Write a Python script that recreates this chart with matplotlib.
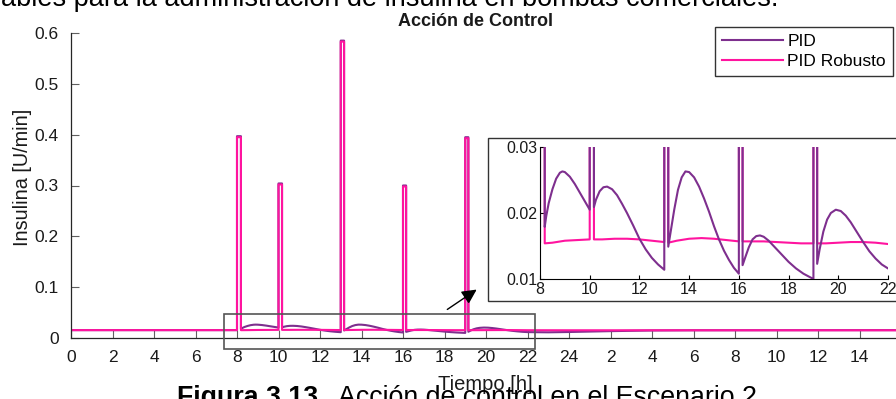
import matplotlib
matplotlib.use("Agg")
import matplotlib.pyplot as plt
from matplotlib.patches import Rectangle, FancyArrowPatch
from matplotlib.ticker import FormatStrFormatter

plt.rcParams['font.family'] = ['Liberation Sans', 'DejaVu Sans']

# Control action, PID controller (time in hours, insulin in U/min)
t_pid = [0.0, 8.0, 8.0, 8.19, 8.19, 8.25, 8.35, 8.5, 8.65, 8.8, 8.9, 9.0, 9.2, 9.4, 9.6, 9.8, 10.0,
         10.0, 10.17, 10.17, 10.25, 10.4, 10.55, 10.7, 10.9, 11.1, 11.3, 11.5, 11.75, 12.0,
         12.25, 12.5, 12.75, 13.0,
         13.0, 13.16, 13.16, 13.25, 13.4, 13.55, 13.7, 13.85, 14.0, 14.2, 14.4, 14.6, 14.8,
         15.0, 15.2, 15.4, 15.6, 15.8, 16.0,
         16.0, 16.15, 16.15, 16.25, 16.4, 16.55, 16.7, 16.85, 17.0, 17.2, 17.4, 17.7, 18.0,
         18.3, 18.6, 19.0,
         19.0, 19.15, 19.15, 19.25, 19.4, 19.55, 19.7, 19.9, 20.1, 20.3, 20.5, 20.75, 21.0,
         21.25, 21.5, 21.75, 22.0,
         23.0, 24.0, 26.0, 28.0, 30.0, 40.0]
u_pid = [0.0155, 0.0155, 0.397, 0.397, 0.0179, 0.0195, 0.0215, 0.0236, 0.0252, 0.0261, 0.0263,
         0.0262, 0.0255, 0.0244, 0.0231, 0.0218, 0.0205,
         0.304, 0.304, 0.0209, 0.0220, 0.0233, 0.0239, 0.0240, 0.0236, 0.0227, 0.0214, 0.0200,
         0.0181, 0.0161, 0.0145, 0.0132, 0.0122, 0.0114,
         0.585, 0.585, 0.0149, 0.0170, 0.0205, 0.0235, 0.0254, 0.0263, 0.0262, 0.0254, 0.0240,
         0.0222, 0.0202, 0.0180, 0.0160, 0.0143, 0.0129, 0.0117, 0.0108,
         0.300, 0.300, 0.0121, 0.0132, 0.0148, 0.0160, 0.0165, 0.0166, 0.0164, 0.0158, 0.0150,
         0.0138, 0.0126, 0.0116, 0.0108, 0.0100,
         0.395, 0.395, 0.0123, 0.0145, 0.0172, 0.0190, 0.0200, 0.0205, 0.0203, 0.0196, 0.0186,
         0.0171, 0.0156, 0.0142, 0.0131, 0.0122, 0.0116,
         0.0112, 0.0118, 0.0135, 0.0148, 0.0152, 0.0155]

# Control action, robust PID controller
t_rob = [0.0, 8.0, 8.0, 8.19, 8.19, 8.5, 9.0, 9.5, 10.0,
         10.0, 10.17, 10.17, 10.5, 11.0, 11.5, 12.0, 12.5, 13.0,
         13.0, 13.16, 13.16, 13.5, 14.0, 14.5, 15.0, 15.5, 16.0,
         16.0, 16.15, 16.15, 16.5, 17.0, 17.5, 18.0, 18.5, 19.0,
         19.0, 19.15, 19.15, 19.5, 20.0, 20.5, 21.0, 21.5, 22.0,
         24.0, 40.0]
u_rob = [0.0155, 0.0155, 0.395, 0.395, 0.0154, 0.0155, 0.0158, 0.0159, 0.0160,
         0.302, 0.302, 0.0160, 0.0160, 0.0161, 0.0161, 0.0160, 0.0158, 0.0156,
         0.583, 0.583, 0.0155, 0.0158, 0.0161, 0.0162, 0.0161, 0.0159, 0.0157,
         0.298, 0.298, 0.0157, 0.0157, 0.0157, 0.0156, 0.0155, 0.0154, 0.0154,
         0.393, 0.393, 0.0154, 0.0154, 0.0155, 0.0156, 0.0156, 0.0155, 0.0153,
         0.0152, 0.0152]

x_ticks = list(range(0, 40, 2))
x_tick_labels = ['0', '2', '4', '6', '8', '10', '12', '14', '16', '18', '20', '22', '24',
                 '2', '4', '6', '8', '10', '12', '14']
y_ticks = [0, 0.1, 0.2, 0.3, 0.4, 0.5, 0.6]
inset_x_ticks = [8, 10, 12, 14, 16, 18, 20, 22]
inset_y_ticks = [0.01, 0.02, 0.03]

C_PID = '#7e2f8e'
C_ROB = '#ff149f'
TXT = '#1a1a1a'

W, H = 896, 399
fig = plt.figure(figsize=(W / 100, H / 100), dpi=100)


def fx(px):
    return px / W


def fy(py):
    return 1 - py / H


# Main axes
ax = fig.add_axes([fx(71), fy(338), fx(830), (338 - 33) / H])
ax.plot(t_pid, u_pid, color=C_PID, lw=1.5, label='PID')
ax.plot(t_rob, u_rob, color=C_ROB, lw=1.5, label='PID Robusto')
ax.set_xlim(0, 40)
ax.set_ylim(0, 0.6)
ax.set_xticks(x_ticks)
ax.set_xticklabels(x_tick_labels)
ax.set_yticks(y_ticks)
ax.yaxis.set_major_formatter(FormatStrFormatter('%g'))
for s in ('top', 'right'):
    ax.spines[s].set_visible(False)
for s in ('left', 'bottom'):
    ax.spines[s].set_color('#262626')
    ax.spines[s].set_linewidth(0.9)
ax.tick_params(direction='in', length=5.5, width=0.8, color='#606060',
               labelsize=12.5, labelcolor=TXT, pad=9)

# Zoomed region marker
ax.add_patch(Rectangle((7.36, -0.0216), 15.0, 0.0688, fill=False,
                       edgecolor='#555555', lw=1.2, clip_on=False, zorder=3))

# Legend
ax.legend(loc='upper right', bbox_to_anchor=(fx(893), fy(27)),
          bbox_transform=fig.transFigure, borderaxespad=0, fontsize=12.5,
          frameon=True, fancybox=False, framealpha=1, edgecolor='#333333',
          handlelength=3.5, handletextpad=0.25, labelspacing=0.3, borderpad=0.4)

# Titles and labels
fig.text(fx(475), fy(26), 'Acción de Control', ha='center', va='baseline',
         fontsize=13, fontweight='bold', color=TXT)
fig.text(fx(22), fy(177), 'Insulina [U/min]', ha='center', va='center',
         rotation=90, fontsize=14.3, color=TXT)
fig.text(fx(485), fy(390), 'Tiempo [h]', ha='center', va='baseline',
         fontsize=14.5, color=TXT)

# Surrounding document text
fig.text(fx(1), fy(6), 'ables para la administración de insulina en bombas comerciales.',
         ha='left', va='baseline', fontsize=19.5, color='black')
fig.text(fx(177), fy(405), 'Figura 3.13.', ha='left', va='baseline',
         fontsize=19.3, fontweight='bold', color='black')
fig.text(fx(338), fy(405), 'Acción de control en el Escenario 2', ha='left',
         va='baseline', fontsize=19.3, color='black')

# Frame behind the inset
fig.add_artist(Rectangle((fx(488), fy(301)), fx(420), (301 - 138) / H,
                         transform=fig.transFigure, facecolor='white',
                         edgecolor='#333333', lw=1.0, zorder=1))

# Arrow pointing from the marked region to the inset
fig.add_artist(FancyArrowPatch((fx(445), fy(311)), (fx(479), fy(288)),
                               transform=fig.transFigure, arrowstyle='-|>',
                               mutation_scale=22, color='black', lw=1.0, zorder=2))

# Inset axes
axi = fig.add_axes([fx(540), fy(279), fx(888 - 540), (279 - 147) / H], zorder=3)
axi.plot(t_rob, u_rob, color=C_ROB, lw=1.5)
axi.plot(t_pid, u_pid, color=C_PID, lw=1.5)
axi.set_xlim(8, 22)
axi.set_ylim(0.01, 0.03)
axi.set_xticks(inset_x_ticks)
axi.set_yticks(inset_y_ticks)
axi.yaxis.set_major_formatter(FormatStrFormatter('%g'))
for s in ('top', 'right'):
    axi.spines[s].set_visible(False)
axi.patch.set_alpha(0)
axi.tick_params(direction='in', length=3, width=0.8, labelsize=11.5,
                labelcolor=TXT, pad=2)

fig.savefig('out.png', dpi=100)
